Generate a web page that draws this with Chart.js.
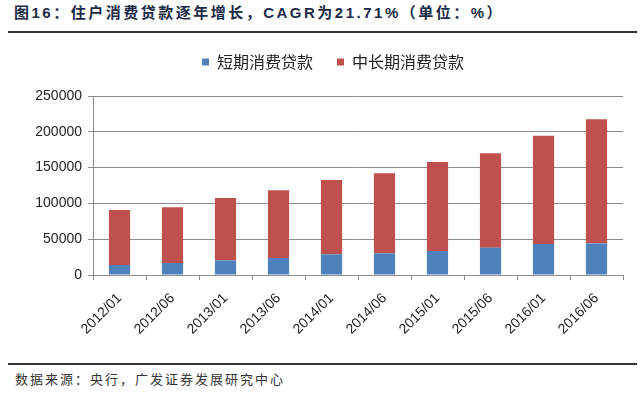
<!DOCTYPE html>
<html>
<head>
<meta charset="utf-8">
<script src="https://cdn.jsdelivr.net/npm/chart.js@4"></script>
<style>
  html, body { margin: 0; padding: 0; background: #fff; }
  body { width: 640px; height: 396px; position: relative; overflow: hidden; font-family: "Liberation Sans", "Noto Sans CJK SC", sans-serif; }
  #title { position: absolute; left: 14px; top: 1px; font-size: 15px; font-weight: bold; color: #1c2a48; letter-spacing: 2.5px; white-space: nowrap; }
  .rule { position: absolute; left: 8px; width: 629px; height: 0; border-top: 2px solid #333; }
  #chartBox { position: absolute; left: 13px; top: 30px; width: 640px; height: 320px; }
  #source { position: absolute; left: 15px; top: 369px; font-size: 13px; color: #333; letter-spacing: 2px; white-space: nowrap; font-family: "Noto Sans CJK SC", sans-serif; }
</style>
</head>
<body>
<div id="title">图16：住户消费贷款逐年增长，CAGR为21.71%（单位：%）</div>
<div class="rule" style="top:31px"></div>
<div id="chartBox"><canvas id="myChart"></canvas></div>
<div class="rule" style="top:363px"></div>
<div id="source">数据来源：央行，广发证券发展研究中心</div>

<script>
  var periods = ['2012/01', '2012/06', '2013/01', '2013/06', '2014/01', '2014/06', '2015/01', '2015/06', '2016/01', '2016/06'];
  var shortTerm = [14000, 16800, 20500, 23700, 28900, 30300, 33500, 38100, 43300, 44200];
  var longTerm = [76800, 77700, 87000, 94600, 103800, 111700, 124300, 131900, 151300, 173200];
  var seriesNames = ['短期消费贷款', '中长期消费贷款'];
  var yTicks = [0, 50000, 100000, 150000, 200000, 250000];

  var fontFamily = '"Liberation Sans", "Noto Sans CJK SC", sans-serif';
  var gridColor = '#8e8e8e';

  // extra room between legend and plot
  var legendGap = {
    id: 'legendGap',
    beforeInit: function(chart) {
      var fit = chart.legend.fit;
      chart.legend.fit = function() {
        fit.bind(chart.legend)();
        this.height += 16;
      };
    }
  };

  let ctx = document.getElementById('myChart').getContext('2d');
  let chart = new Chart(ctx, {
    type: 'bar',
    data: {
      labels: periods,
      datasets: [{
        label: seriesNames[0],
        data: shortTerm,
        backgroundColor: '#4f81bd',
        barPercentage: 0.4,
        categoryPercentage: 1
      }, {
        label: seriesNames[1],
        data: longTerm,
        backgroundColor: '#c0504d',
        barPercentage: 0.4,
        categoryPercentage: 1
      }]
    },
    plugins: [legendGap],
    options: {
      responsive: true,
      maintainAspectRatio: false,
      animation: false,
      layout: { padding: 0 },
      plugins: {
        legend: {
          position: 'top',
          labels: {
            boxWidth: 7,
            boxHeight: 7,
            padding: 24,
            color: '#222',
            font: { size: 16, family: '"Noto Sans CJK SC", sans-serif' }
          }
        },
        tooltip: { enabled: false }
      },
      scales: {
        x: {
          stacked: true,
          afterFit: function(scale) { scale.height = 75; },
          grid: { display: true, drawOnChartArea: false, color: gridColor, tickLength: 5, offset: true },
          border: { color: gridColor },
          ticks: {
            autoSkip: false,
            minRotation: 45,
            maxRotation: 45,
            padding: 10,
            color: '#222',
            font: { size: 14, family: fontFamily }
          }
        },
        y: {
          stacked: true,
          min: yTicks[0],
          max: yTicks[yTicks.length - 1],
          afterFit: function(scale) { scale.width = 80; },
          afterBuildTicks: function(scale) {
            scale.ticks = yTicks.map(function(v) { return { value: v }; });
          },
          grid: { color: gridColor, tickLength: 5 },
          border: { color: gridColor },
          ticks: {
            padding: 6,
            color: '#222',
            font: { size: 14, family: fontFamily },
            callback: function(v) { return String(v); }
          }
        },
        // empty right axis, only keeps the plot edge in place
        yRight: {
          position: 'right',
          afterFit: function(scale) { scale.width = 30; },
          grid: { display: false },
          border: { display: false },
          ticks: { display: false }
        }
      }
    }
  });
</script>
</body>
</html>
